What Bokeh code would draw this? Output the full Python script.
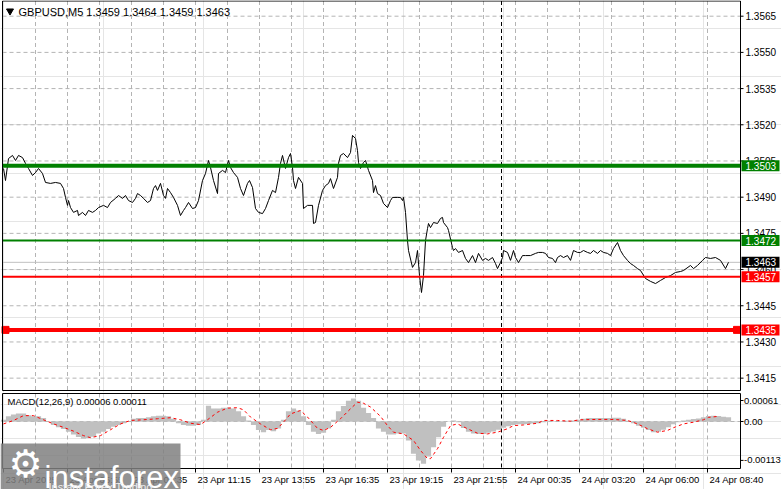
from bokeh.plotting import figure
from bokeh.models import Range1d
from bokeh.core.properties import value
from bokeh.layouts import column
from bokeh.embed import file_html
from bokeh.resources import INLINE

# ---------------- data ----------------
# bar index: M5 bars counted from 23 Apr 03:15
bars = [
    0, 1, 2.5, 4.5, 6, 7.5, 9.5, 11, 12.5, 14.5,
    16, 17.5, 19.5, 21, 23.5, 26, 28.5, 30, 31, 32,
    32.5, 33.5, 35, 37, 37.5, 39.5, 41, 42.5, 44.5, 46,
    47.5, 50, 52, 53.5, 56, 57.5, 59.5, 61, 62.5, 64.5,
    66, 67, 68.5, 70, 72, 73.5, 75, 76, 77, 78.5,
    80, 81, 82, 83.5, 85, 87, 88.5, 90, 91, 92.5,
    94.5, 96, 97.5, 99.5, 101, 102.5, 103.5, 105, 107, 107.5,
    109.5, 111, 112.5, 113.5, 115, 117, 118.5, 120, 122, 123,
    124.5, 126, 127.5, 129.5, 131, 132.5, 134.5, 136, 137.5, 138.5,
    139.5, 141, 142.5, 143.5, 144.5, 145, 146, 147.5, 149.5, 150,
    152, 154.5, 155, 156, 157.5, 159.5, 161, 162.5, 163.5, 165,
    167, 167.5, 168.5, 170, 172, 173.5, 174.5, 176, 177, 177.5,
    178.5, 180, 181, 182.5, 184.5, 185, 186, 187, 188.5, 190,
    192, 193.5, 194.5, 197, 198.5, 199.5, 200, 201, 202, 202.5,
    204.5, 206, 207, 208, 209, 210, 211, 212, 212.5, 213.5,
    215, 217, 218.5, 219.5, 220, 222, 222.5, 224.5, 225, 226,
    227.5, 229.5, 231, 232.5, 234.5, 236, 237.5, 239.5, 241, 242.5,
    244.5, 246, 247, 248.5, 249.5, 250, 252, 253.5, 255, 256,
    257.5, 259.5, 261, 263.5, 266, 267.5, 269.5, 271, 272.5, 274.5,
    276, 277, 278.5, 280, 282, 283.5, 285, 287, 288.5, 290,
    292, 293.5, 295, 297, 298.5, 300, 302, 303.5, 305, 307,
    308.5, 310, 312, 313.5, 315, 317, 318.5, 321, 323.5, 326,
    328.5, 331, 333.5, 336, 338.5, 340, 343.5, 345, 347, 349.5,
    351, 353.5, 356, 358.5, 361, 362.5,
]
closes = [
    1.35019, 1.34969, 1.35060, 1.35073, 1.35052, 1.35073, 1.35064, 1.35040, 1.35019, 1.34990,
    1.35002, 1.35019, 1.34998, 1.34961, 1.34957, 1.34961, 1.34957, 1.34936, 1.34899, 1.34866,
    1.34886, 1.34857, 1.34837, 1.34845, 1.34824, 1.34837, 1.34824, 1.34845, 1.34837, 1.34845,
    1.34857, 1.34866, 1.34857, 1.34878, 1.34895, 1.34907, 1.34895, 1.34907, 1.34886, 1.34878,
    1.34895, 1.34915, 1.34907, 1.34895, 1.34878, 1.34886, 1.34936, 1.34948, 1.34928, 1.34957,
    1.34907, 1.34895, 1.34936, 1.34919, 1.34899, 1.34866, 1.34824, 1.34845, 1.34857, 1.34878,
    1.34853, 1.34857, 1.34886, 1.34969, 1.34998, 1.35052, 1.35023, 1.34969, 1.34915, 1.34998,
    1.35011, 1.35002, 1.35052, 1.35023, 1.35002, 1.34982, 1.34936, 1.34907, 1.34957, 1.34969,
    1.34940, 1.34853, 1.34837, 1.34832, 1.34853, 1.34886, 1.34928, 1.34919, 1.34982, 1.35040,
    1.35073, 1.35019, 1.35064, 1.35081, 1.35023, 1.34969, 1.34936, 1.34982, 1.34957, 1.34853,
    1.34866, 1.34866, 1.34791, 1.34795, 1.34866, 1.34928, 1.34948, 1.34957, 1.34977, 1.34936,
    1.34982, 1.35040, 1.35073, 1.35081, 1.35064, 1.35085, 1.35156, 1.35143, 1.35093, 1.35044,
    1.35019, 1.35044, 1.35052, 1.35011, 1.34969, 1.34919, 1.34948, 1.34915, 1.34907, 1.34874,
    1.34857, 1.34886, 1.34899, 1.34899, 1.34899, 1.34886, 1.34899, 1.34837, 1.34720, 1.34679,
    1.34609, 1.34629, 1.34679, 1.34575, 1.34505, 1.34575, 1.34720, 1.34770, 1.34791, 1.34774,
    1.34795, 1.34791, 1.34812, 1.34816, 1.34795, 1.34774, 1.34762, 1.34691, 1.34679, 1.34687,
    1.34671, 1.34679, 1.34646, 1.34629, 1.34658, 1.34629, 1.34667, 1.34638, 1.34646, 1.34638,
    1.34650, 1.34625, 1.34604, 1.34629, 1.34650, 1.34679, 1.34671, 1.34638, 1.34679, 1.34650,
    1.34629, 1.34658, 1.34658, 1.34658, 1.34667, 1.34671, 1.34671, 1.34667, 1.34650, 1.34646,
    1.34629, 1.34650, 1.34658, 1.34650, 1.34658, 1.34638, 1.34679, 1.34671, 1.34671, 1.34679,
    1.34671, 1.34667, 1.34679, 1.34667, 1.34679, 1.34671, 1.34667, 1.34658, 1.34687, 1.34712,
    1.34679, 1.34658, 1.34638, 1.34625, 1.34617, 1.34604, 1.34596, 1.34563, 1.34551, 1.34542,
    1.34555, 1.34567, 1.34575, 1.34588, 1.34592, 1.34596, 1.34617, 1.34604, 1.34617, 1.34638,
    1.34650, 1.34646, 1.34650, 1.34638, 1.34604, 1.34630,
]
assert len(bars) == len(closes)

# MACD histogram, read every 2.5 bars, in units of 1e-5
hist_e5 = [
    5, 15, 20, 23, 23, 18, 15, 15, 10, 0,
    -10, -17, -22, -30, -38, -45, -50, -48, -44, -35,
    -30, -22, -15, -10, -5, 0, 8, 10, 10, 12,
    15, 17, 17, 15, 8, -5, -10, -12, -12, -10,
    5, 46, 38, 38, 40, 40, 38, 30, 15, 3,
    -10, -25, -31, -25, -28, -20, 5, 30, 38, 32,
    15, -10, -30, -36, -33, -20, 5, 30, 45, 60,
    67, 60, 40, 25, 10, -20, -30, -38, -38, -35,
    -35, -55, -94, -113, -123, -102, -75, -46, -15, 0,
    3, -2, -19, -30, -35, -36, -36, -33, -29, -24,
    -18, -14, -10, -8, -8, -7, -6, -5, -2, 2,
    1, 0, 1, 2, 3, 5, 8, 10, 10, 10,
    10, 10, 11, 11, 8, 2, -5, -12, -18, -25,
    -31, -30, -24, -17, -8, -2, 3, 5, 7, 9,
    12, 16, 17, 16, 14, 12,
]
hist_bars = [i * 2.5 for i in range(len(hist_e5))]

# MACD signal line, in units of 1e-5
sig_bars = [0, 5, 10, 15, 20, 25, 30, 35, 40, 43.5,
            48.5, 53.5, 58.5, 63.5, 70, 77, 83.5, 88.5, 93.5, 98.5,
            102, 107, 112, 117, 120, 123.5, 128.5, 133.5, 137, 140,
            143.5, 148.5, 152, 157, 160, 163.5, 168.5, 173.5, 177, 180,
            183.5, 188.5, 192, 195, 200, 205, 208.5, 212, 213.5, 217,
            220, 223.5, 227, 232, 237, 242, 247, 252, 255, 260,
            267, 270, 277, 283.5, 288.5, 297, 305, 312, 317, 322,
            327, 332, 335, 340, 345, 350, 352.5, 357.5]
sig_e5 = [-7, 3, 17, 17, 5, -7, -17, -28, -41, -47,
          -41, -24, -7, 3, 5, 8, 11, 5, -5, -9,
          5, 27, 39, 40, 34, 13, -7, -24, -20, -2,
          22, 32, 13, -20, -26, -17, 8, 37, 56, 53,
          42, 15, -12, -31, -36, -55, -84, -108, -108, -79,
          -46, -12, -7, -21, -34, -36, -31, -21, -12, -10,
          -5, 3, 3, 1, 5, 6, 6, 3, -7, -21,
          -31, -26, -18, -7, -2, 5, 12, 15]

price_ticks = [1.3415, 1.3430, 1.3445, 1.3460, 1.3475, 1.3490,
               1.3505, 1.3520, 1.3535, 1.3550, 1.3565]
macd_ticks = [-0.00113, 0.0, 0.00061]
macd_tick_labels = ["-0.00113", "0.00", "0.00061"]

time_ticks = [0, 32, 64, 96, 128, 160, 192, 224, 256, 288, 320, 352]
time_labels = ["23 Apr 2025", "23 Apr 05:55", "23 Apr 08:35", "23 Apr 11:15",
               "23 Apr 13:55", "23 Apr 16:35", "23 Apr 19:15", "23 Apr 21:55",
               "24 Apr 00:35", "24 Apr 03:20", "24 Apr 06:00", "24 Apr 08:40"]
grid_bars = [16, 32, 48, 64, 80, 96, 112, 128, 144, 160, 176, 192, 208,
             224, 240, 256, 272, 288, 304, 320, 336, 352]
day_separator = 249

levels = [1.3503, 1.3472, 1.3457, 1.3435]
level_colors = ["#008000", "#008000", "#ff0000", "#ff0000"]
level_widths = [4, 2, 2, 4]
bid = 1.3463

title_text = "GBPUSD,M5  1.3459 1.3464 1.3459 1.3463"
macd_text = "MACD(12,26,9) 0.00006 0.00011"


# ---------------- layout helpers (pixel -> data calibration) ----------------
def bx(px):      # horizontal pixel -> bar index
    return (px - 3) / 2.0


def py(ypx):     # vertical pixel -> price (main window)
    return 1.3565 - (ypx - 15.7) / 24130.0


def my(ypx):     # vertical pixel -> MACD value (indicator window)
    return (421 - ypx) / 34426.0


FONT = "Liberation Sans"
GRID = "#b4b4b4"
DASH = "4 3"
RIGHT = bx(740)      # right edge of the chart windows
LEFT = bx(2)

x_range = Range1d(bx(0), bx(781))
common = dict(x_range=x_range, x_axis_location=None, y_axis_location=None,
              toolbar_location=None, output_backend="svg", min_border=0)
p1 = figure(width=781, height=392, y_range=Range1d(py(392), py(0)), **common)
p2 = figure(width=781, height=97, y_range=Range1d(my(489), my(392)), **common)
for p in (p1, p2):
    p.outline_line_color = None
    p.background_fill_color = "white"
    p.border_fill_color = "white"

# ======================= main window =======================
top1, bot1 = py(0.5), py(390)
p1.segment(x0=grid_bars, y0=top1, x1=grid_bars, y1=bot1,
           line_color=GRID, line_dash=DASH, line_width=1)
p1.segment(x0=LEFT, y0=price_ticks, x1=RIGHT, y1=price_ticks,
           line_color=GRID, line_dash=DASH, line_width=1)
p1.segment(x0=[LEFT], y0=[bid], x1=[RIGHT], y1=[bid], line_color="#c0c0c0", line_width=1)
p1.segment(x0=[day_separator], y0=top1, x1=[day_separator], y1=bot1,
           line_color="black", line_dash=DASH, line_width=1)
p1.line(bars, closes, line_color="black", line_width=1)
p1.segment(x0=LEFT, y0=levels, x1=RIGHT, y1=levels,
           line_color=level_colors, line_width=level_widths)
p1.scatter([bx(5), bx(736.5)], [levels[3], levels[3]], marker="square", size=7,
           fill_color="#ff0000", line_color="#ff0000")
p1.quad(left=[LEFT], right=[RIGHT], top=[top1], bottom=[bot1],
        fill_color=None, line_color="black", line_width=1)
# price scale
p1.segment(x0=RIGHT, y0=price_ticks, x1=bx(743), y1=price_ticks, line_color="black")
p1.text(x=bx(745), y=price_ticks, text=[f"{t:.4f}" for t in price_ticks],
        text_font=value(FONT), text_font_size=value("10px"), text_color="black",
        text_align="left", text_baseline="middle")
box_vals = levels[:2] + [bid] + levels[2:]
box_cols = level_colors[:2] + ["black"] + level_colors[2:]
half = 5.5 / 24130.0
p1.quad(left=bx(741), right=bx(779), top=[v + half for v in box_vals],
        bottom=[v - half for v in box_vals], fill_color=box_cols, line_color=None)
p1.text(x=bx(745), y=box_vals, text=[f"{v:.4f}" for v in box_vals],
        text_font=value(FONT), text_font_size=value("10px"), text_color="white",
        text_align="left", text_baseline="middle")
# title
p1.scatter([bx(9.5)], [py(10.5)], marker="inverted_triangle", size=7,
           fill_color="black", line_color="black")
p1.text(x=[bx(18)], y=[py(11)], text=[title_text], text_font=value(FONT),
        text_font_size=value("11px"), text_color="black",
        text_align="left", text_baseline="middle")

# ======================= MACD window =======================
top2, bot2 = my(393), my(468)
p2.segment(x0=grid_bars, y0=top2, x1=grid_bars, y1=bot2,
           line_color=GRID, line_dash=DASH, line_width=1)
p2.segment(x0=[LEFT], y0=[0.0], x1=[RIGHT], y1=[0.0],
           line_color=GRID, line_dash=DASH, line_width=1)
hist = [v * 1e-5 for v in hist_e5]
sig = [v * 1e-5 for v in sig_e5]
p2.vbar(x=hist_bars, top=hist, bottom=0, width=2.6, fill_color="#c0c0c0", line_color=None)
p2.segment(x0=[day_separator], y0=top2, x1=[day_separator], y1=bot2,
           line_color="black", line_dash=DASH, line_width=1)
p2.line(sig_bars, sig, line_color="#ff0000", line_width=1, line_dash="3 3")
p2.quad(left=[LEFT], right=[RIGHT], top=[top2], bottom=[bot2],
        fill_color=None, line_color="black", line_width=1)
p2.segment(x0=RIGHT, y0=macd_ticks, x1=bx(743), y1=macd_ticks, line_color="black")
p2.text(x=bx(743.5), y=macd_ticks, text=macd_tick_labels,
        text_font=value(FONT), text_font_size=value("9.5px"), text_color="black",
        text_align="left", text_baseline="middle")
p2.text(x=[bx(7)], y=[my(401)], text=[macd_text], text_font=value(FONT),
        text_font_size=value("9.5px"), text_color="black",
        text_align="left", text_baseline="middle")
# time axis
p2.segment(x0=time_ticks, y0=bot2, x1=time_ticks, y1=my(472), line_color="black")
p2.text(x=[t + 1 for t in time_ticks], y=my(479), text=time_labels,
        text_font=value(FONT), text_font_size=value("9.5px"), text_color="black",
        text_align="left", text_baseline="middle")

# watermark
p2.quad(left=[bx(0)], right=[bx(180)], top=[my(443)], bottom=[my(489)],
        fill_color="#808080", fill_alpha=0.85, line_color=None)
p2.text(x=[bx(25)], y=[my(463)], text=["\u2699"], text_font=value("DejaVu Sans"),
        text_font_size=value("38px"), text_color="white",
        text_align="center", text_baseline="middle")
p2.text(x=[bx(44)], y=[my(477)], text=["instaforex"], text_font=value(FONT),
        text_font_size=value("31px"), text_color="white",
        text_align="left", text_baseline="alphabetic")
p2.text(x=[bx(48)], y=[my(486)], text=["Instant Forex Trading"], text_font=value(FONT),
        text_font_size=value("11px"), text_color="#eeeeee",
        text_align="left", text_baseline="alphabetic")

layout = column(p1, p2, spacing=0)
open("out.html", "w").write(file_html(layout, INLINE))
